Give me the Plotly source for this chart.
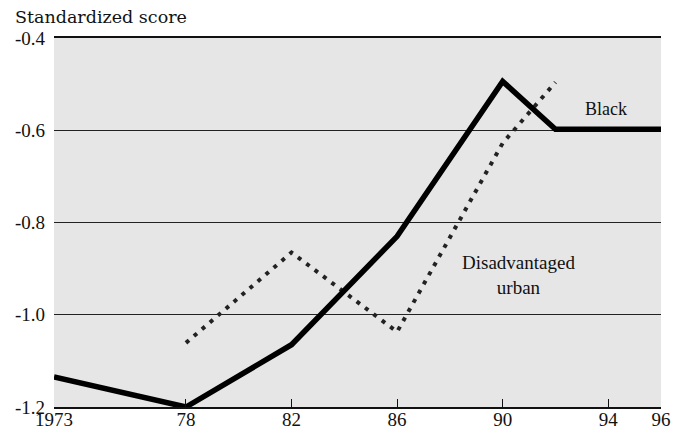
import plotly.graph_objects as go

years_black = [1973, 1978, 1982, 1986, 1990, 1992, 1996]
score_black = [-1.135, -1.2, -1.065, -0.83, -0.494, -0.598, -0.598]

years_urban = [1978, 1982, 1986, 1990, 1992]
score_urban = [-1.061, -0.865, -1.037, -0.628, -0.496]

tick_years = [1973, 1978, 1982, 1986, 1990, 1994, 1996]
tick_labels = ["1973", "78", "82", "86", "90", "94", "96"]
y_ticks = [-1.2, -1.0, -0.8, -0.6, -0.4]
y_labels = ["-1.2", "-1.0", "-0.8", "-0.6", "-0.4"]

fig = go.Figure()
fig.add_trace(go.Scatter(x=years_urban, y=score_urban, mode="lines",
                         line=dict(color="#222222", width=4, dash="4px,6.5px"),
                         showlegend=False, hoverinfo="skip"))
fig.add_trace(go.Scatter(x=years_black, y=score_black, mode="lines",
                         line=dict(color="#000000", width=5.5),
                         showlegend=False, hoverinfo="skip"))

# page body has an 8px margin, so the figure is shrunk/shifted to compensate
fig.update_layout(
    width=678, height=421,
    margin=dict(l=46, r=25, t=30, b=22),
    paper_bgcolor="white", plot_bgcolor="#e6e6e6",
    font=dict(family="Liberation Serif", size=19, color="#111111"),
    xaxis=dict(range=[1973, 1996], tickvals=tick_years, ticktext=tick_labels,
               showgrid=False, zeroline=False, showline=True, linecolor="#111111",
               linewidth=1.5, mirror=True, ticks="inside", ticklen=8, tickwidth=1,
               tickcolor="#111111", automargin=False, ticklabelstandoff=-6,
               tickfont=dict(size=19, family="Liberation Serif")),
    yaxis=dict(range=[-1.2, -0.4], tickvals=y_ticks, ticktext=y_labels,
               showgrid=True, gridcolor="#222222", gridwidth=1, zeroline=False,
               showline=False, ticks="", ticklabelstandoff=8, automargin=False,
               tickfont=dict(size=19, family="Liberation Serif")),
    annotations=[
        dict(text="Standardized score", xref="paper", yref="paper",
             x=-0.068, y=1.058, xanchor="left", yanchor="middle", showarrow=False,
             font=dict(family="DejaVu Serif", size=17.5, color="#111111")),
        dict(text="Black", xref="x", yref="y", x=1993.9, y=-0.553,
             showarrow=False, font=dict(family="Liberation Serif", size=18, color="#111111")),
        dict(text="Disadvantaged<br>urban", xref="x", yref="y", x=1990.6, y=-0.913,
             showarrow=False, font=dict(family="Liberation Serif", size=19, color="#111111")),
    ],
)

fig.write_html("out.html")
